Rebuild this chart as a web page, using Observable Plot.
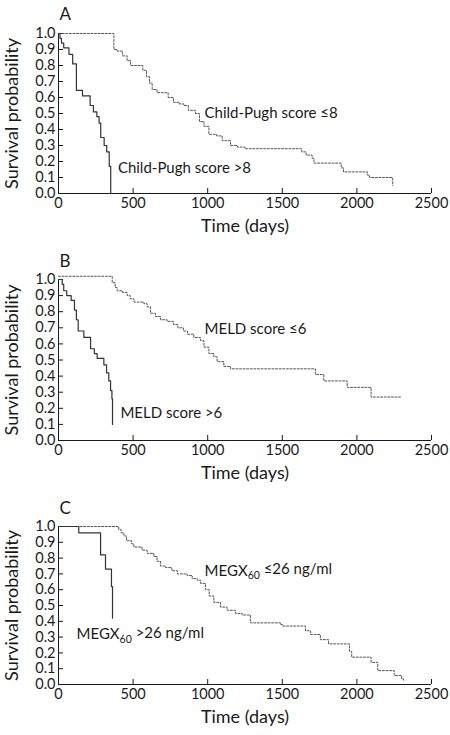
<!DOCTYPE html>
<html><head><meta charset="utf-8">
<script src="https://cdn.jsdelivr.net/npm/d3@7"></script>
<script src="https://cdn.jsdelivr.net/npm/@observablehq/plot@0.6"></script>
<style>
body{margin:0;background:#fff}
#chart{width:450px;height:735px;overflow:hidden}
#chart svg{display:block}
</style>
</head><body><div id="chart"></div>
<script>
const xTicks = [0, 500, 1000, 1500, 2000, 2500];
const yTicks = [0, 0.1, 0.2, 0.3, 0.4, 0.5, 0.6, 0.7, 0.8, 0.9, 1.0];
const panelLetters = ["A", "B", "C"];
const xTitle = "Time (days)";
const yTitle = "Survival probability";

// Panel A — Child-Pugh
const timesA_hi = [0, 10, 20, 35, 70, 95, 120, 161, 212, 234, 257, 272, 283, 306, 323, 340, 350];
const survA_hi  = [1.0, 0.97, 0.94, 0.91, 0.87, 0.81, 0.645, 0.61, 0.55, 0.51, 0.48, 0.44, 0.35, 0.30, 0.26, 0.17, 0.0];
const timesA_lo = [0, 371, 393, 430, 460, 483, 565, 590, 610, 628, 660, 735, 770, 810, 840, 870, 918, 945, 975, 1008, 1060, 1097, 1153, 1200, 1250, 1630, 1660, 1700, 1712, 1895, 1910, 2070, 2085, 2240];
const survA_lo  = [1.0, 0.90, 0.89, 0.86, 0.83, 0.80, 0.77, 0.73, 0.69, 0.65, 0.63, 0.60, 0.57, 0.56, 0.55, 0.52, 0.50, 0.45, 0.42, 0.37, 0.36, 0.33, 0.30, 0.29, 0.28, 0.26, 0.24, 0.22, 0.19, 0.16, 0.135, 0.115, 0.10, 0.05];

// Panel B — MELD
const timesB_hi = [0, 25, 35, 55, 85, 107, 120, 132, 170, 215, 240, 259, 304, 322, 337, 349, 358, 362];
const survB_hi  = [1.0, 0.97, 0.93, 0.90, 0.87, 0.81, 0.75, 0.68, 0.64, 0.57, 0.54, 0.51, 0.47, 0.42, 0.37, 0.31, 0.26, 0.10];
const timesB_lo = [0, 360, 380, 393, 430, 460, 480, 505, 572, 594, 617, 650, 684, 728, 770, 800, 837, 864, 907, 952, 975, 1008, 1041, 1063, 1108, 1153, 1722, 1778, 1935, 2095, 2292];
const survB_lo  = [1.02, 0.98, 0.95, 0.93, 0.92, 0.90, 0.88, 0.86, 0.85, 0.83, 0.79, 0.77, 0.75, 0.74, 0.72, 0.70, 0.68, 0.66, 0.64, 0.62, 0.58, 0.54, 0.52, 0.49, 0.46, 0.445, 0.41, 0.37, 0.33, 0.27, 0.27];

// Panel C — MEGX60
const timesC_hi = [0, 136, 282, 315, 355, 362];
const survC_hi  = [1.0, 0.96, 0.82, 0.73, 0.62, 0.42];
const timesC_lo = [0, 404, 420, 438, 456, 490, 505, 560, 594, 639, 660, 683, 717, 760, 797, 862, 896, 930, 952, 985, 1010, 1041, 1086, 1130, 1186, 1231, 1286, 1488, 1500, 1655, 1690, 1755, 1810, 1950, 1965, 2095, 2140, 2250, 2300, 2313];
const survC_lo  = [1.0, 0.98, 0.96, 0.94, 0.91, 0.89, 0.87, 0.85, 0.83, 0.81, 0.78, 0.75, 0.74, 0.72, 0.70, 0.69, 0.67, 0.66, 0.64, 0.60, 0.56, 0.52, 0.49, 0.47, 0.45, 0.44, 0.39, 0.38, 0.37, 0.34, 0.316, 0.284, 0.257, 0.21, 0.173, 0.14, 0.088, 0.057, 0.035, 0.02];

// Curve labels
const labelsLo = ["Child-Pugh score ≤8", "MELD score ≤6", "MEGX60 ≤26 ng/ml"];
const labelsHi = ["Child-Pugh score >8", "MELD score >6", "MEGX60 >26 ng/ml"];
const labelLoX = [979, 979, 979];
const labelLoY = [0.504, 0.69, 0.72];
const labelHiX = [398, 415, 121];
const labelHiY = [0.156, 0.17, 0.316];

const layout = [
  {marginTop: 33, marginBottom: 52, letterDy: -19},
  {marginTop: 34, marginBottom: 50, letterDy: -18},
  {marginTop: 36, marginBottom: 51, letterDy: -18}
];
const series = [
  [timesA_hi, survA_hi, timesA_lo, survA_lo],
  [timesB_hi, survB_hi, timesB_lo, survB_lo],
  [timesC_hi, survC_hi, timesC_lo, survC_lo]
];

const FONT = "Lato, 'Liberation Sans', sans-serif";
const toRows = (T, S) => T.map((t, i) => ({t, s: S[i]}));

function panel(i) {
  const [hT, hS, lT, lS] = series[i];
  const L = layout[i];
  const labelRows = [
    {x: labelLoX[i], y: labelLoY[i], text: labelsLo[i]},
    {x: labelHiX[i], y: labelHiY[i], text: labelsHi[i]}
  ];
  return Plot.plot({
    width: 450, height: 245,
    marginLeft: 58, marginRight: 19, marginTop: L.marginTop, marginBottom: L.marginBottom,
    style: {fontFamily: FONT, fontSize: "14.5px", color: "#1a1a1a", background: "#fff", overflow: "visible"},
    x: {domain: [0, 2500]},
    y: {domain: [0, 1]},
    marks: [
      Plot.axisX({ticks: xTicks, tickSize: -5, tickPadding: 9, label: null, fontSize: 14.5, tickFormat: d3.format("d")}),
      Plot.axisY({ticks: yTicks, tickSize: -5, tickPadding: 8, label: null, fontSize: 14.5, tickFormat: d3.format(".1f")}),
      Plot.ruleY([0], {stroke: "#1a1a1a"}),
      Plot.ruleX([0], {y1: 0, y2: 1, stroke: "#1a1a1a"}),
      Plot.line(toRows(lT, lS), {x: "t", y: "s", curve: "step-after", stroke: "#555", strokeWidth: 1, strokeDasharray: "2,1.6"}),
      Plot.line(toRows(hT, hS), {x: "t", y: "s", curve: "step-after", stroke: "#333", strokeWidth: 1.2}),
      Plot.text(labelRows, {x: "x", y: "y", text: "text", textAnchor: "start", lineAnchor: "middle", fontSize: 15, fill: "#1a1a1a"}),
      Plot.text([panelLetters[i]], {frameAnchor: "top-left", textAnchor: "start", lineAnchor: "middle", dx: 1, dy: L.letterDy, fontSize: 17}),
      Plot.text([xTitle], {frameAnchor: "bottom", textAnchor: "middle", lineAnchor: "middle", dy: 33, fontSize: 18}),
      Plot.text([yTitle], {frameAnchor: "left", textAnchor: "middle", lineAnchor: "middle", dx: -46, rotate: -90, fontSize: 18})
    ]
  });
}

const root = document.getElementById("chart");
for (let i = 0; i < 3; i++) {
  const svg = panel(i);
  d3.select(svg).selectAll("text").each(function() {
    const s = this.textContent;
    if (s.startsWith("MEGX60")) {
      const sel = d3.select(this);
      sel.text(null);
      sel.append("tspan").text("MEGX");
      sel.append("tspan").attr("dy", "0.35em").attr("font-size", "10.5px").text("60");
      sel.append("tspan").attr("dy", "-0.35em").text(s.slice(6));
    }
  });
  root.append(svg);
}
</script>
</body></html>
